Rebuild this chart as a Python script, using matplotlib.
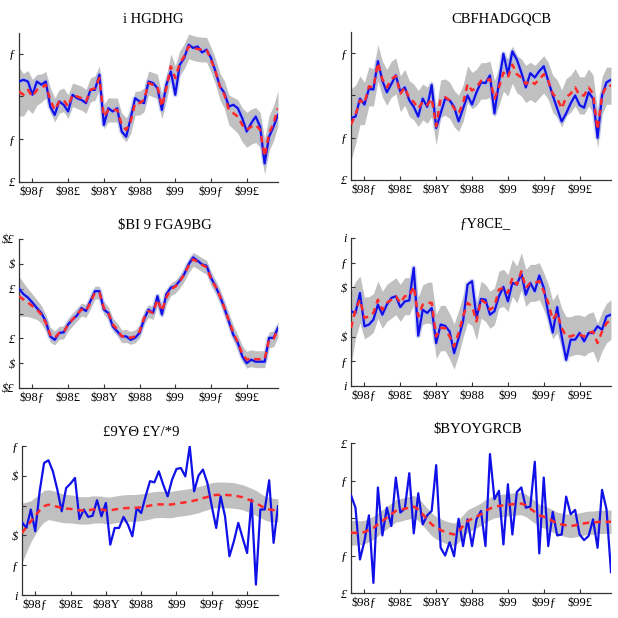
import numpy as np
import matplotlib
matplotlib.use("Agg")
import matplotlib.pyplot as plt

# quarters on the x axis (index of each observation)
quarters = np.arange(59)
xtick_pos = [3, 11, 19, 27, 35, 43, 51]
xtick_labels = ["$98ƒ", "$98£", "$98Y", "$988", "$99", "$99ƒ", "$99£"]

titles = ["i HGDHG", "CBFHADGQCB", "$BI 9 FGA9BG", "ƒY8CE_", "£9YΘ £Y/*9", "$BYOYGRCB"]

# panel 1
blue1 = [0.70, 0.78, 0.70, 0.08, 0.70, 0.55, 0.70, -0.47, -0.86, -0.23, -0.39, -0.70, 0.08, -0.08, -0.16,
         -0.31, 0.31, 0.31, 1.02, -1.33, -0.55, -0.70, -0.55, -1.64, -1.88, -1.02, -0.08, -0.23, -0.31, 0.70,
         0.63, 0.39, -0.63, 0.55, 1.17, 0.08, 1.48, 1.80, 2.42, 2.27, 2.34, 2.06, 2.19, 1.80, 1.17,
         0.47, 0.16, -0.47, -0.39, -0.55, -1.02, -1.64, -1.25, -0.94, -1.41, -3.13, -1.88, -1.41, -0.86]
red1 = [0.23, 0.08, 0.31, 0.00, 0.31, 0.39, 0.55, -0.16, -0.63, -0.23, -0.16, -0.47, 0.08, 0.00, -0.08,
        -0.23, 0.31, 0.39, 0.86, -0.94, -0.63, -0.63, -0.63, -1.33, -1.56, -1.17, -0.31, -0.31, -0.16, 0.63,
        0.55, 0.47, -0.47, 0.39, 1.41, 0.86, 1.56, 1.88, 2.34, 2.27, 2.22, 2.19, 2.19, 1.72, 1.17,
        0.47, 0.08, -0.63, -0.78, -0.94, -1.33, -1.56, -1.41, -1.33, -1.56, -2.81, -1.72, -1.25, -0.55]
hw1 = [1.13, 1.00, 0.90, 0.80, 0.72, 0.66, 0.62, 0.58, 0.56, 0.55, 0.55, 0.55, 0.55, 0.56, 0.56,
       0.56, 0.56, 0.57, 0.57, 0.57, 0.57, 0.56, 0.56, 0.56, 0.56, 0.56, 0.56, 0.56, 0.56, 0.56,
       0.57, 0.57, 0.57, 0.58, 0.58, 0.58, 0.58, 0.58, 0.58, 0.58, 0.58, 0.58, 0.58, 0.58, 0.60,
       0.62, 0.65, 0.70, 0.74, 0.78, 0.80, 0.82, 0.82, 0.82, 0.82, 0.82, 0.82, 0.82, 0.82]

# panel 2
blue2 = [-1.08, -1.00, -0.15, -0.43, 0.31, 0.28, 1.62, 0.69, 0.15, 0.54, 0.95, 0.18, 0.38, -0.23, -0.54,
         -1.00, -0.15, -0.54, 0.49, -1.54, -0.85, -0.15, -0.23, -0.54, -1.23, -0.62, 0.00, -0.43, 0.15, 0.62,
         0.58, 0.95, -0.85, 0.62, 1.97, 1.00, 2.08, 1.69, 1.08, 0.38, 1.05, 0.85, 1.15, 1.38, 0.69,
         0.00, -0.62, -1.23, -0.85, -0.38, 0.00, -0.46, -0.58, 0.15, -0.15, -2.00, 0.00, 0.62, 0.74]
red2 = [-1.38, -0.92, -0.23, -0.38, 0.43, 0.38, 1.54, 0.77, 0.38, 0.77, 0.92, 0.08, 0.38, -0.15, -0.31,
        -0.62, -0.31, -0.46, -0.15, -1.46, -0.15, -0.08, -0.23, -0.62, -0.85, -0.38, 0.54, 0.23, 0.38, 0.69,
        0.69, 0.77, -0.15, 0.38, 1.08, 0.85, 1.46, 1.00, 0.85, 0.54, 0.69, 0.54, 0.77, 1.00, 0.69,
        0.08, -0.15, -0.62, -0.08, 0.08, 0.38, 0.00, 0.00, 0.38, 0.08, -1.62, 0.00, 0.46, 0.46]
hw2 = [1.70, 1.40, 1.15, 1.00, 0.92, 0.88, 0.86, 0.85, 0.85, 0.85, 0.85, 0.85, 0.85, 0.85, 0.85,
       0.85, 0.85, 0.86, 0.86, 0.88, 0.88, 0.86, 0.86, 0.86, 0.86, 0.86, 0.86, 0.86, 0.86, 0.86,
       0.86, 0.86, 0.86, 0.86, 0.88, 0.88, 0.88, 0.88, 0.88, 0.88, 0.88, 0.88, 0.88, 0.88, 0.88,
       0.88, 0.88, 0.88, 0.88, 0.88, 0.88, 0.88, 0.88, 0.88, 0.88, 0.88, 0.88, 0.88, 0.88]

# panel 3
blue3 = [0.50, 0.39, 0.32, 0.22, 0.11, 0.01, -0.16, -0.46, -0.53, -0.39, -0.38, -0.22, -0.12, -0.04, 0.11,
         0.05, 0.25, 0.45, 0.45, 0.08, 0.01, -0.26, -0.36, -0.46, -0.46, -0.53, -0.49, -0.39, -0.12, 0.08,
         0.01, 0.35, -0.02, 0.39, 0.52, 0.55, 0.66, 0.79, 0.99, 1.13, 1.06, 0.99, 0.96, 0.72, 0.55,
         0.35, 0.11, -0.16, -0.43, -0.59, -0.86, -1.00, -0.93, -0.97, -0.97, -0.97, -0.49, -0.49, -0.29]
red3 = [0.35, 0.28, 0.22, 0.15, 0.08, -0.02, -0.19, -0.43, -0.49, -0.39, -0.38, -0.22, -0.12, -0.02, 0.08,
        0.05, 0.22, 0.42, 0.42, 0.11, 0.01, -0.22, -0.32, -0.46, -0.45, -0.49, -0.46, -0.36, -0.09, 0.05,
        0.01, 0.28, 0.05, 0.32, 0.49, 0.54, 0.64, 0.79, 0.96, 1.09, 1.04, 0.98, 0.93, 0.70, 0.54,
        0.35, 0.11, -0.14, -0.39, -0.58, -0.81, -0.93, -0.90, -0.92, -0.92, -0.92, -0.53, -0.51, -0.32]
hw3 = [0.40, 0.34, 0.28, 0.24, 0.20, 0.18, 0.17, 0.15, 0.14, 0.13, 0.13, 0.13, 0.13, 0.13, 0.13,
       0.13, 0.13, 0.13, 0.13, 0.13, 0.13, 0.13, 0.13, 0.13, 0.13, 0.13, 0.13, 0.13, 0.13, 0.13,
       0.13, 0.13, 0.13, 0.13, 0.13, 0.13, 0.13, 0.14, 0.14, 0.14, 0.14, 0.14, 0.14, 0.14, 0.14,
       0.14, 0.14, 0.14, 0.15, 0.15, 0.16, 0.17, 0.17, 0.17, 0.17, 0.17, 0.16, 0.16, 0.16]

# panel 4
blue4 = [0.03, -0.04, 0.77, -0.58, -0.51, -0.31, 0.30, -0.11, 0.30, 0.57, 0.64, 0.20, 0.43, 0.47, 1.79,
         -0.96, 0.09, -0.04, 0.16, -1.26, -0.51, -0.56, -0.79, -1.67, -1.06, -0.38, 1.11, 1.25, -0.24, 0.53,
         0.50, -0.11, 0.03, 0.64, 1.02, 0.43, 1.18, 1.11, 1.56, 0.70, 1.18, 0.84, 1.48, 0.98, -0.04,
         -0.83, 0.20, -0.99, -1.94, -1.12, -1.12, -0.85, -1.19, -0.85, -0.85, -0.58, -0.72, -0.18, -0.11]
red4 = [-0.65, 0.09, 0.50, -0.24, -0.18, -0.04, 0.50, 0.09, 0.37, 0.50, 0.64, 0.37, 0.64, 0.64, 1.04,
        -0.18, 0.30, 0.37, 0.37, -0.99, -0.65, -0.65, -0.99, -1.40, -0.85, -0.18, 0.37, 0.23, -0.38, 0.50,
        0.37, 0.09, 0.23, 0.91, 0.98, 0.77, 1.38, 1.11, 1.65, 0.98, 1.18, 1.18, 1.25, 0.84, 0.37,
        -0.31, -0.04, -0.65, -0.99, -0.99, -0.92, -0.92, -0.99, -0.85, -0.79, -1.26, -0.79, -0.45, -0.31]
hw4 = [1.50, 1.15, 0.95, 0.85, 0.80, 0.78, 0.76, 0.75, 0.75, 0.75, 0.75, 0.75, 0.75, 0.75, 0.75,
       0.78, 0.80, 0.82, 0.85, 0.90, 0.92, 0.92, 0.92, 0.92, 0.90, 0.85, 0.80, 0.78, 0.76, 0.75,
       0.75, 0.75, 0.75, 0.75, 0.75, 0.75, 0.75, 0.75, 0.75, 0.75, 0.75, 0.75, 0.75, 0.75, 0.76,
       0.78, 0.80, 0.80, 0.80, 0.80, 0.80, 0.80, 0.80, 0.80, 0.80, 0.80, 0.80, 0.80, 0.80]

# panel 5
blue5 = [-0.56, -0.75, -0.13, -0.86, 0.48, 1.43, 1.52, 1.15, 0.54, -0.19, 0.59, 0.74, 0.93, -0.45, -0.13,
         -0.38, -0.34, 0.18, -0.36, 0.09, -1.31, -0.75, -0.75, -0.38, -0.64, -1.03, -0.08, -0.25, 0.31, 0.82,
         0.78, 1.15, 0.70, 0.31, 0.87, 1.23, 1.26, 0.98, 1.99, 0.48, 1.01, 1.21, 0.76, -0.02, -0.75,
         0.31, -0.36, -1.70, -1.20, -0.58, -1.09, -1.59, 0.20, -2.65, -0.13, -0.13, 0.85, -1.25, -0.02]
red5 = [-0.92, -0.72, -0.53, -0.34, -0.16, -0.02, 0.03, 0.00, -0.04, -0.08, -0.10, -0.11, -0.13, -0.16, -0.16,
        -0.16, -0.13, -0.13, -0.13, -0.16, -0.16, -0.13, -0.11, -0.09, -0.08, -0.08, -0.07, -0.06, -0.03, 0.00,
        0.03, 0.04, 0.04, 0.03, 0.04, 0.07, 0.09, 0.11, 0.13, 0.17, 0.20, 0.25, 0.29, 0.34, 0.36,
        0.36, 0.36, 0.35, 0.34, 0.31, 0.28, 0.22, 0.16, 0.09, 0.00, -0.08, -0.13, -0.15, -0.16]
hw5 = [1.00, 0.84, 0.69, 0.62, 0.56, 0.53, 0.50, 0.50, 0.49, 0.48, 0.48, 0.47, 0.47, 0.46, 0.46,
       0.46, 0.46, 0.45, 0.45, 0.45, 0.45, 0.45, 0.45, 0.45, 0.45, 0.45, 0.45, 0.45, 0.45, 0.45,
       0.44, 0.44, 0.44, 0.44, 0.44, 0.44, 0.44, 0.44, 0.44, 0.44, 0.44, 0.43, 0.43, 0.43, 0.43,
       0.43, 0.43, 0.43, 0.43, 0.42, 0.42, 0.42, 0.42, 0.42, 0.41, 0.40, 0.40, 0.39, 0.39]

# panel 6
blue6 = [1.21, 0.55, -2.21, -1.23, 0.14, -3.46, 1.63, -0.93, 0.55, -0.43, 2.16, 0.29, 0.50, 2.39, -0.82,
         1.32, -0.34, 0.14, 0.38, 2.82, -1.59, -2.00, -1.29, -2.04, -0.04, -1.50, -0.07, -1.50, -0.07, 0.38,
         -1.50, 3.41, 1.00, 1.45, -1.41, 1.80, -0.88, 1.39, 1.63, 0.55, 0.61, 3.00, -1.89, 2.16, -1.50,
         0.32, -0.93, -0.88, 1.14, 0.20, 0.43, -0.88, -1.18, -0.96, -0.07, -1.59, 1.50, 0.46, -2.89]
red6 = [-0.79, -0.79, -0.79, -0.75, -0.64, -0.52, -0.34, -0.16, 0.02, 0.20, 0.38, 0.43, 0.50, 0.55, 0.61,
        0.46, 0.20, -0.07, -0.34, -0.52, -0.64, -0.75, -0.82, -0.88, -0.70, -0.43, -0.16, -0.04, 0.07, 0.20,
        0.38, 0.50, 0.61, 0.64, 0.68, 0.71, 0.73, 0.77, 0.77, 0.68, 0.50, 0.32, 0.14, 0.07, -0.04,
        -0.16, -0.29, -0.34, -0.39, -0.43, -0.39, -0.34, -0.29, -0.25, -0.25, -0.21, -0.21, -0.20, -0.20]
hw6 = [0.66, 0.65, 0.64, 0.63, 0.62, 0.62, 0.61, 0.60, 0.60, 0.60, 0.60, 0.60, 0.60, 0.60, 0.60,
       0.60, 0.60, 0.60, 0.60, 0.60, 0.60, 0.60, 0.60, 0.60, 0.60, 0.60, 0.60, 0.60, 0.60, 0.60,
       0.60, 0.60, 0.60, 0.60, 0.60, 0.60, 0.60, 0.60, 0.60, 0.60, 0.60, 0.60, 0.60, 0.60, 0.60,
       0.60, 0.60, 0.60, 0.61, 0.62, 0.62, 0.62, 0.62, 0.62, 0.62, 0.62, 0.62, 0.62, 0.62]

yticks = [[-4, -2, 0, 2], [-4, -2, 0, 2], [-1.5, -1, -0.5, 0, 0.5, 1, 1.5],
          [-3, -2, -1, 0, 1, 2, 3], [-3, -2, -1, 0, 1, 2], [-4, -2, 0, 2, 4]]
ytick_labels = [["£", "ƒ", "", "ƒ"], ["£", "ƒ", "", "ƒ"], ["$£", "$", "£", "", "£", "$", "$£"],
                ["i", "ƒ", "$", "", "$", "ƒ", "i"], ["i", "ƒ", "$", "", "$", "ƒ"], ["£", "ƒ", "", "ƒ", "£"]]
ylims = [(-4, 2.97), (-4, 3.0), (-1.5, 1.5), (-3, 3), (-3, 2), (-4, 4)]

blues = [blue1, blue2, blue3, blue4, blue5, blue6]
reds = [red1, red2, red3, red4, red5, red6]
hws = [hw1, hw2, hw3, hw4, hw5, hw6]

# axes boxes in pixels (left, top, right, bottom) of a 618x618 canvas
boxes = [(19, 33, 278, 182), (351, 32, 611, 180), (19, 239, 278, 388),
         (351, 238, 611, 386), (22, 446, 278, 595), (351, 443, 611, 593)]
title_x = [0.517, 0.577, 0.564, 0.515, 0.465, 0.488]
halo = [True, True, True, True, False, False]

fig = plt.figure(figsize=(6.18, 6.18), dpi=100)
W = H = 618.0
font = ["Liberation Serif", "DejaVu Serif"]

for k in range(6):
    l, t, r, b = boxes[k]
    ax = fig.add_axes([l / W, 1 - b / H, (r - l) / W, (b - t) / H])
    mid = np.array(reds[k])
    hw = np.array(hws[k])
    ax.fill_between(quarters, mid - hw, mid + hw, color="#c0c0c0", linewidth=0, zorder=1)
    if halo[k]:
        ax.plot(quarters, blues[k], color="#a9b5f0", linewidth=3.8, alpha=0.55, zorder=2)
    ax.plot(quarters, blues[k], color="#1010e8", linewidth=1.6, zorder=3)
    ax.plot(quarters, reds[k], color="#ff2a2a", linewidth=1.8, linestyle=(0, (2.6, 2.0)), zorder=4)
    ax.set_xlim(0, 58)
    ax.set_ylim(*ylims[k])
    ax.set_xticks(xtick_pos)
    ax.set_xticklabels(xtick_labels, fontfamily=font, fontsize=9)
    ax.set_yticks(yticks[k])
    ax.set_yticklabels(ytick_labels[k], fontfamily=font, fontsize=9, style="italic")
    ax.tick_params(direction="in", length=3, width=0.8, color="#333333", pad=3)
    for s in ["top", "right"]:
        ax.spines[s].set_visible(False)
    for s in ["left", "bottom"]:
        ax.spines[s].set_color("#333333")
        ax.spines[s].set_linewidth(0.9)
    ax.set_title(titles[k], x=title_x[k], fontfamily=font, fontsize=10.5, pad=7)

fig.savefig("out.png", dpi=100)
